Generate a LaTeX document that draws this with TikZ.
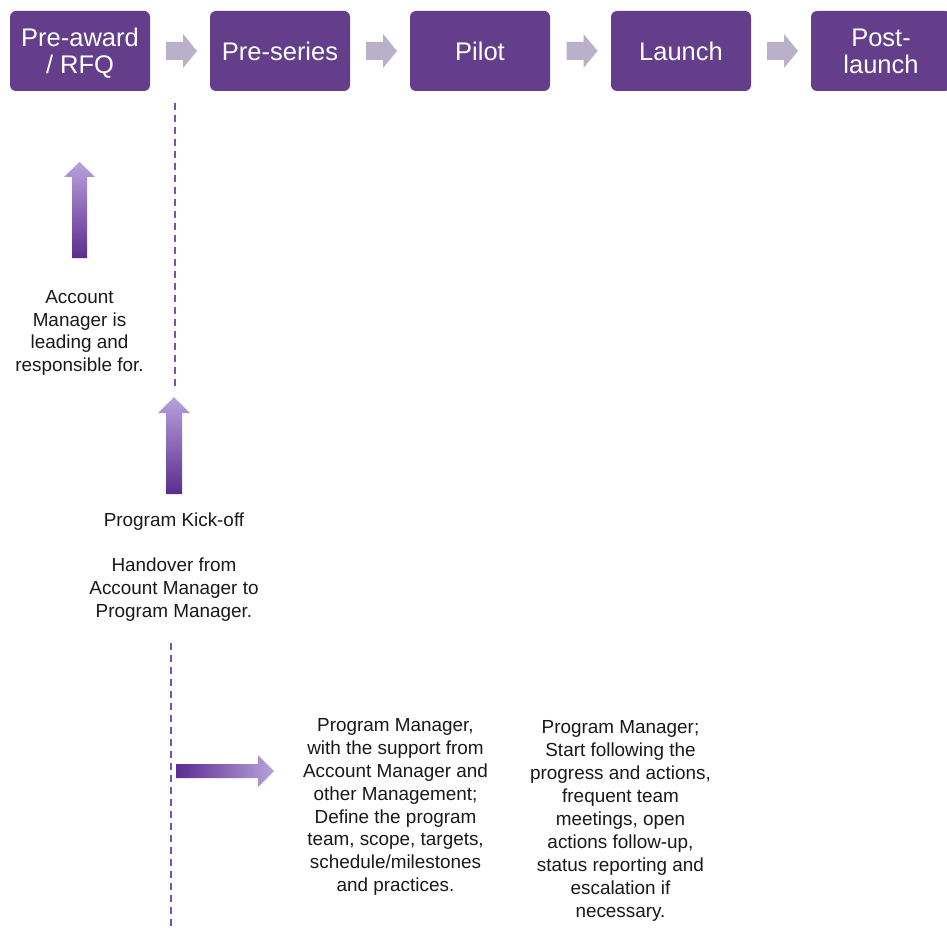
\documentclass[tikz,border=0pt]{standalone}
\usepackage{fontspec}
\setmainfont{Liberation Sans}
\usetikzlibrary{calc}
\definecolor{phase}{RGB}{100,62,139}
\definecolor{chevgrey}{RGB}{185,176,202}
\definecolor{lightlav}{RGB}{184,162,220}
\definecolor{darkpurp}{RGB}{92,44,143}
\definecolor{dashpurp}{RGB}{122,84,168}
\definecolor{txt}{RGB}{25,25,25}
\tikzset{
  phasebox/.style={fill=phase, rounded corners=6pt, minimum width=140pt, minimum height=80pt,
    text=white, align=center, inner sep=0pt, text depth=0pt, font=\fontsize{25.5}{26.5}\selectfont},
  chev/.style={fill=chevgrey},
  note/.style={align=center, text=txt, inner sep=0pt, font=\fontsize{18.9}{22.9}\selectfont},
  divider/.style={draw=dashpurp, line width=1.7pt, dash pattern=on 7pt off 5pt},
  uparrow/.style={top color=lightlav, bottom color=darkpurp, draw=none},
  rightarrow/.style={left color=darkpurp, right color=lightlav, draw=none}
}
\begin{document}
\begin{tikzpicture}[x=1pt,y=-1pt]
\useasboundingbox (0,0) rectangle (947,928);
\fill[white] (0,0) rectangle (947,928);

% phase boxes
\node[phasebox] (rfq)    at (80,51)  {Pre-award\\/ RFQ};
\node[phasebox] (pre)    at (280,51) {Pre-series};
\node[phasebox] (pilot)  at (480,51) {Pilot};
\node[phasebox] (launch) at (681,51) {Launch};
\node[phasebox] (post)   at (881,51) {Post-\\launch};

% chevrons between the phases
\foreach \a/\b in {rfq/pre, pre/pilot, pilot/launch, launch/post} {
  \path ($(\a.east)!0.5!(\b.west)$) coordinate (m);
  \fill[chev] ($(m)+(-14,-9)$) -- ($(m)+(3,-9)$) -- ($(m)+(3,-17)$) -- ($(m)+(17,0)$)
    -- ($(m)+(3,17)$) -- ($(m)+(3,9)$) -- ($(m)+(-14,9)$) -- cycle;
}

% kick-off dividers
\coordinate (d1top) at (175,103);
\coordinate (d1bot) at (175,386);
\coordinate (d2top) at (171,643);
\coordinate (d2bot) at (171,928);
\draw[divider] (d1top) -- (d1bot);
\draw[divider] (d2top) -- (d2bot);

% gradient arrows
\shade[uparrow] (72,258) -- (72,177) -- (64,177) -- (79.5,162) -- (95,177) -- (87,177) -- (87,258) -- cycle;
\shade[uparrow] (166,494) -- (166,413) -- (158,413) -- (174,397) -- (190,413) -- (182,413) -- (182,494) -- cycle;
\shade[rightarrow] (176,764) -- (258,764) -- (258,755) -- (274,771) -- (258,787) -- (258,778) -- (176,778) -- cycle;

% notes
\node[note] (am) at (79.5,333) {Account\\Manager is\\leading and\\responsible for.};
\node[note] (kick) at (174,567) {Program Kick-off\\[22.9pt]Handover from\\Account Manager to\\Program Manager.};
\node[note] (define) at (395.5,807) {Program Manager,\\with the support from\\Account Manager and\\other Management;\\Define the program\\team, scope, targets,\\schedule/milestones\\and practices.};
\node[note] (follow) at (620.5,821) {Program Manager;\\Start following the\\progress and actions,\\frequent team\\meetings, open\\actions follow-up,\\status reporting and\\escalation if\\necessary.};
\end{tikzpicture}
\end{document}
